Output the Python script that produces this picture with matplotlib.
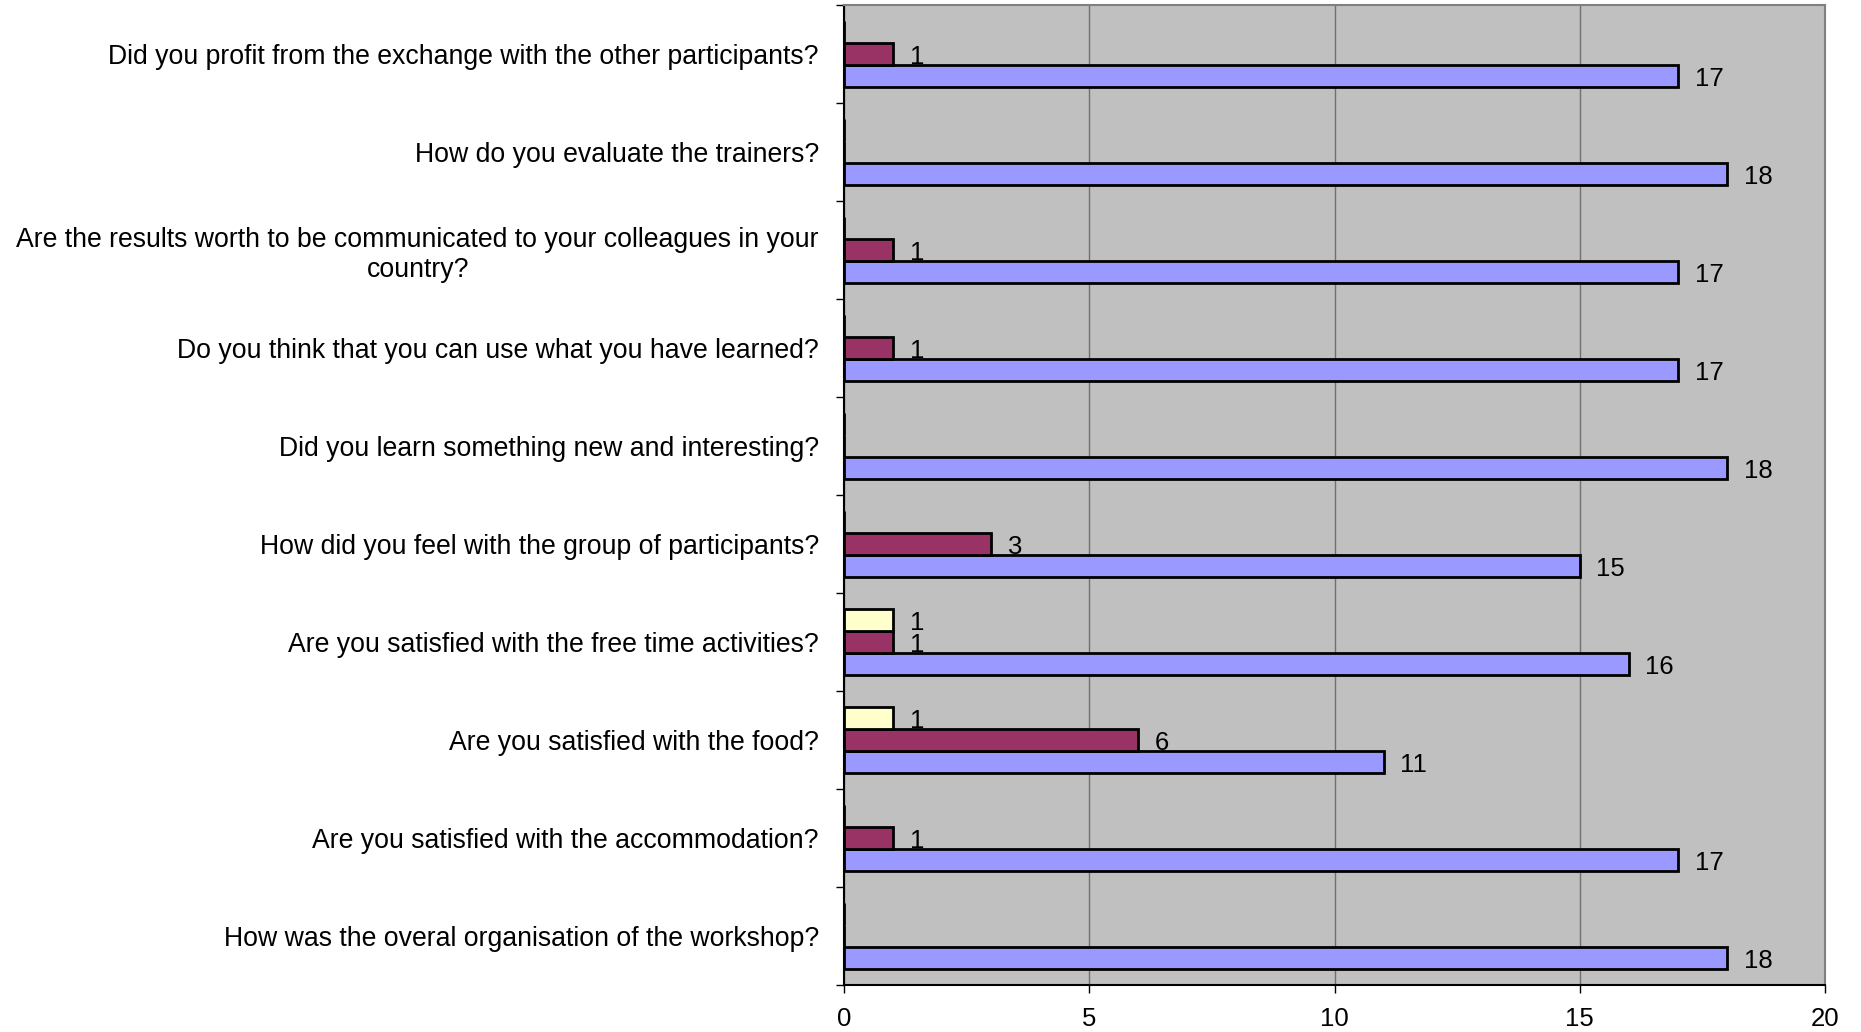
import numpy as np
import matplotlib
matplotlib.use("Agg")
import matplotlib.pyplot as plt

plt.rcParams['font.family'] = ['Liberation Sans', 'DejaVu Sans']

# categories listed bottom to top, as drawn
questions = [
    "How was the overal organisation of the workshop?",
    "Are you satisfied with the accommodation?",
    "Are you satisfied with the food?",
    "Are you satisfied with the free time activities?",
    "How did you feel with the group of participants?",
    "Did you learn something new and interesting?",
    "Do you think that you can use what you have learned?",
    "Are the results worth to be communicated to your colleagues in your\ncountry?",
    "How do you evaluate the trainers?",
    "Did you profit from the exchange with the other participants?",
]
blue_vals = [18, 17, 11, 16, 15, 18, 17, 17, 18, 17]
maroon_vals = [0, 1, 6, 1, 3, 0, 1, 1, 0, 1]
yellow_vals = [0, 0, 1, 1, 0, 0, 0, 0, 0, 0]

series = [
    (blue_vals, "#9999FF", -1),
    (maroon_vals, "#993366", 0),
    (yellow_vals, "#FFFFCC", 1),
]

fig = plt.figure(figsize=(18.61, 10.32), dpi=100)
ax = fig.add_axes([844 / 1861, 1 - 985 / 1032, (1825 - 844) / 1861, (985 - 5) / 1032])
ax.set_facecolor("#C0C0C0")

y = np.arange(len(questions))
h = 1 / 4.5
for vals, color, k in series:
    ax.barh(y + k * h, vals, height=h, color=color, edgecolor="black", linewidth=2, zorder=3)
    for yi, v in zip(y, vals):
        if v > 0:
            ax.annotate(str(v), (v, yi + k * h), xytext=(12, -2), textcoords="offset points",
                        va="center", ha="left", fontsize=18.5, zorder=4)

ax.set_xlim(0, 20)
ax.set_ylim(-0.5, len(questions) - 0.5)
ax.set_xticks([0, 5, 10, 15, 20])
ax.xaxis.grid(True, color="#707070", linewidth=1, zorder=1)
ax.tick_params(axis="x", length=6, width=1, pad=10, labelsize=18.5)

ax.set_yticks(y)
ax.set_yticklabels(questions, fontsize=19.2)
for lab in ax.get_yticklabels():
    lab.set_multialignment("center")
ax.set_yticks(np.arange(len(questions) + 1) - 0.5, minor=True)
ax.tick_params(axis="y", which="major", length=0, pad=18)
ax.tick_params(axis="y", which="minor", length=6, width=1)

ax.spines["left"].set_color("black")
ax.spines["bottom"].set_color("black")
ax.spines["top"].set_color("#808080")
ax.spines["right"].set_color("#808080")
for s in ax.spines.values():
    s.set_linewidth(1.5)

fig.savefig("out.png", dpi=100)
